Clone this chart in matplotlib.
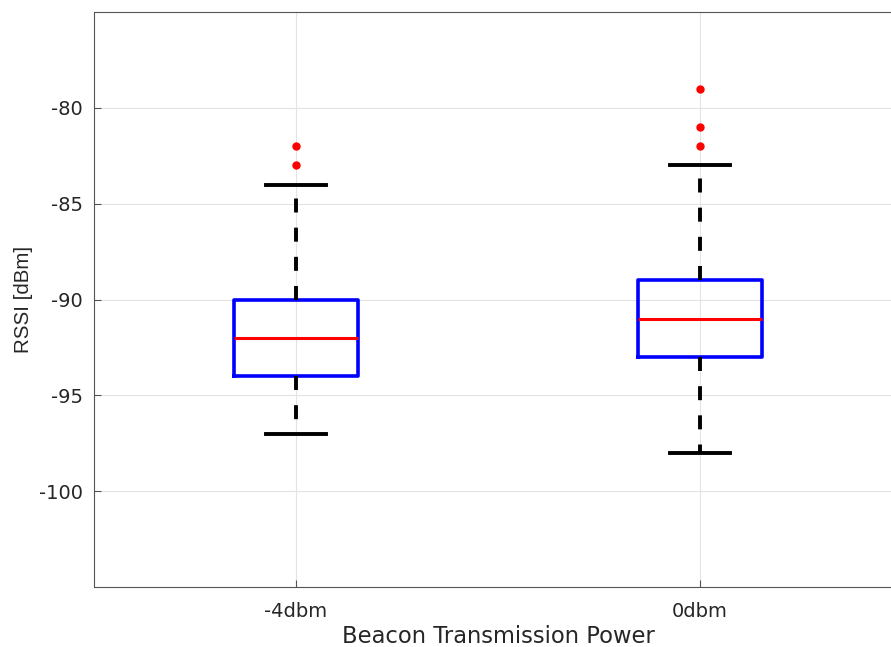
import matplotlib.pyplot as plt

plt.rcParams["font.family"] = ["DejaVu Sans"]
plt.rcParams["axes.unicode_minus"] = False

labels = ["-4dbm", "0dbm"]
q1 = [-94, -93]
med = [-92, -91]
q3 = [-90, -89]
whislo = [-97, -98]
whishi = [-84, -83]
fliers = [[-82, -83], [-79, -81, -82]]

stats = []
for i, name in enumerate(labels):
    stats.append({
        "label": name, "q1": q1[i], "med": med[i], "q3": q3[i],
        "whislo": whislo[i], "whishi": whishi[i], "fliers": fliers[i],
    })

fig = plt.figure(figsize=(8.91, 6.47), dpi=100)
# axes run past the right edge, as in the cropped original
ax = fig.add_axes([94 / 891, 60 / 647, 808 / 891, 575 / 647])

ax.bxp(
    stats, positions=[1, 2], widths=0.305,
    boxprops=dict(color="#0000ff", linewidth=2.6),
    medianprops=dict(color="#ff0000", linewidth=2.2),
    whiskerprops=dict(color="black", linewidth=2.8, linestyle=(0, (3.6, 3.9))),
    capprops=dict(color="black", linewidth=2.8),
    flierprops=dict(marker="o", markerfacecolor="#ff0000", markeredgecolor="#ff0000",
                    markersize=5, linestyle="none"),
    capwidths=0.15,
)

ax.set_xlim(0.5, 2.5)
ax.set_ylim(-105, -75)
ax.set_yticks([-100, -95, -90, -85, -80])
ax.set_xticks([1, 2])
ax.set_xticklabels(labels)
ax.grid(True, color="#e3e3e3", linewidth=0.8)
ax.set_axisbelow(True)
ax.tick_params(direction="in", length=5, color="#555555", labelsize=14,
               labelcolor="#262626")
ax.tick_params(axis="x", pad=11)
ax.tick_params(axis="y", pad=8)
for s in ax.spines.values():
    s.set_color("#555555")
    s.set_linewidth(0.8)

ax.set_xlabel("Beacon Transmission Power", fontsize=16.3, color="#262626", labelpad=3)
ax.set_ylabel("RSSI [dBm]", fontsize=14.8, color="#262626", labelpad=4,
              family="Liberation Sans")

fig.savefig("out.png", dpi=100)
